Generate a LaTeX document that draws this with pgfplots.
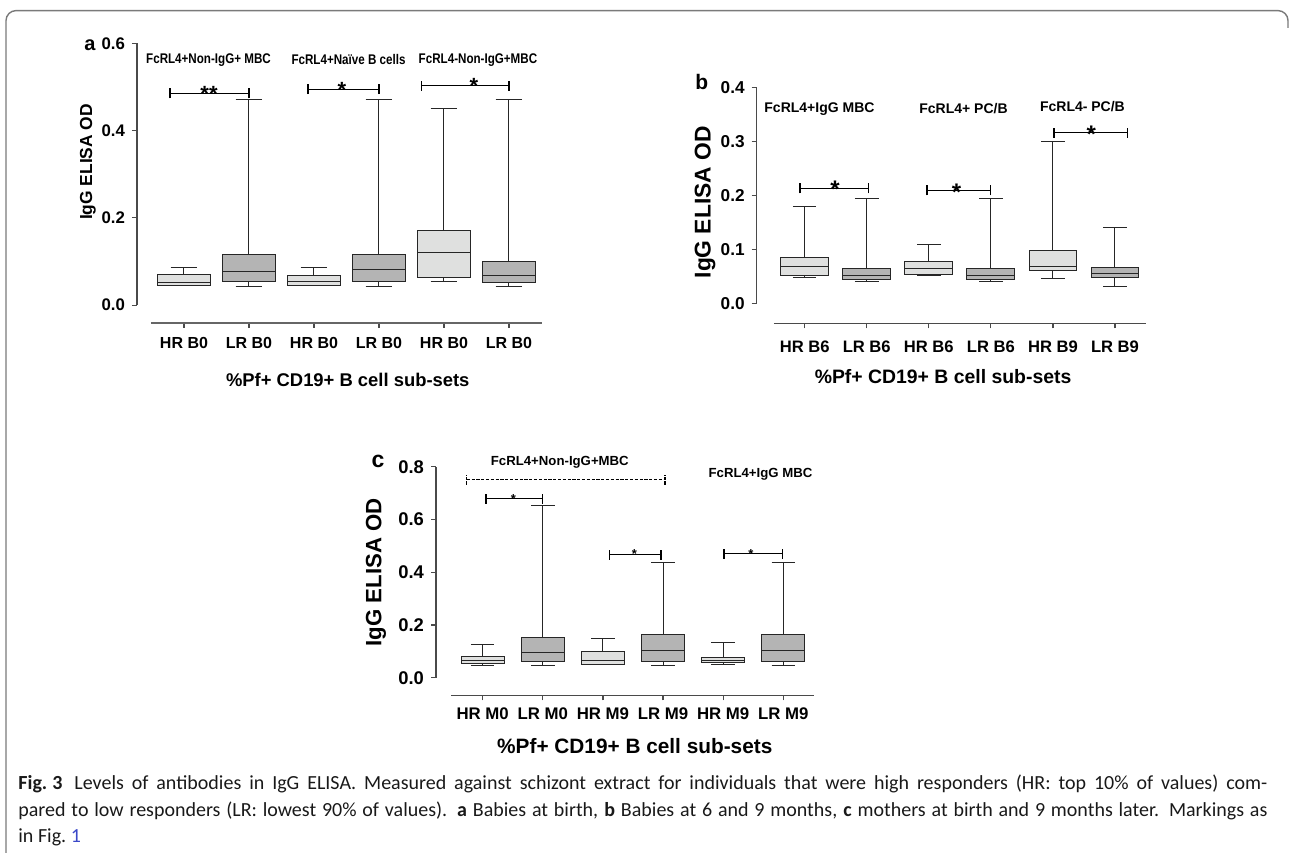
\documentclass[border=0pt]{standalone}
\usepackage{fontspec}
\setmainfont{Liberation Sans}
\newfontfamily\capfont{Carlito}
\usepackage{graphicx}
\usepackage{pgfplots}
\pgfplotsset{compat=1.18}
\usepgfplotslibrary{statistics}

\definecolor{boxlight}{HTML}{DFE0DF}
\definecolor{boxdark}{HTML}{B4B4B4}
\definecolor{axgray}{HTML}{4A4A4A}
\definecolor{framegray}{HTML}{7A7A7A}
\definecolor{linkblue}{HTML}{3B48C8}

\pgfplotsset{
  gp/.style={
    scale only axis, clip=false,
    axis line style={draw=none},
    tick pos=left, tick align=outside,
    major tick length=2.5pt,
    every tick/.style={axgray, line width=0.6pt},
    /pgf/number format/assume math mode=true,
    yticklabel style={/pgf/number format/fixed, /pgf/number format/fixed zerofill,
      /pgf/number format/precision=1},
    xtick={0,1,2,3,4,5},
  },
}
\tikzset{
  axln/.style={axgray, line width=0.7pt},
  sigline/.style={black, line width=0.6pt},
}

% box: position, fill, lower whisker, lower quartile, median, upper quartile, upper whisker
\newcommand{\bx}[7]{%
  \addplot[draw=black!85, line width=0.5pt, fill=#2,
    boxplot prepared={draw direction=y, draw position=#1, lower whisker=#3, lower quartile=#4,
      median=#5, upper quartile=#6, upper whisker=#7,
      box extend=\boxw, whisker extend=\whiskw}] coordinates {};}
% bracket: x1, x2, y
\newcommand{\sig}[3]{%
  \draw[sigline] (axis cs:#1,#3) -- (axis cs:#2,#3);
  \draw[sigline] ([yshift=-2.5pt]axis cs:#1,#3) -- ([yshift=2.5pt]axis cs:#1,#3);
  \draw[sigline] ([yshift=-2.5pt]axis cs:#2,#3) -- ([yshift=2.5pt]axis cs:#2,#3);}

\begin{document}
\begin{tikzpicture}
\useasboundingbox (0,0) rectangle (645pt,426pt);
\draw[framegray, line width=0.7pt, rounded corners=5pt]
  (3pt,-2pt) -- (3pt,420.7pt) -- (644pt,420.7pt) -- (644pt,412pt);

% ---------- panel a
\def\boxw{0.82}\def\whiskw{0.41}
\begin{axis}[gp, at={(68.5pt,264.5pt)}, anchor=south west,
  width=202.5pt, height=139.85pt,
  xmin=-0.723, xmax=5.508, ymin=-0.041, ymax=0.6,
  ytick={0,0.2,0.4,0.6},
  yticklabel style={font=\fontsize{8.4}{10}\selectfont\bfseries},
  xticklabels={HR B0,LR B0,HR B0,LR B0,HR B0,LR B0},
  xticklabel style={font=\fontsize{8}{10}\selectfont\bfseries, yshift=-1.3pt},
]
\bx{0}{boxlight}{0.045}{0.046}{0.052}{0.070}{0.086}
\bx{1}{boxdark}{0.043}{0.055}{0.078}{0.115}{0.472}
\bx{2}{boxlight}{0.045}{0.046}{0.054}{0.069}{0.087}
\bx{3}{boxdark}{0.043}{0.055}{0.081}{0.115}{0.472}
\bx{4}{boxlight}{0.055}{0.063}{0.120}{0.171}{0.450}
\bx{5}{boxdark}{0.042}{0.052}{0.068}{0.099}{0.472}
\draw[axln] (axis cs:-0.723,0) -- (axis cs:-0.723,0.6);
\draw[axln, black!60, line width=0.9pt] (axis cs:-0.508,-0.041) -- (axis cs:5.508,-0.041);
\sig{-0.215}{1}{0.485}
\sig{1.908}{3}{0.495}
\sig{3.657}{5}{0.503}
\begin{scope}[every node/.style={anchor=base, inner sep=0, font=\fontsize{11}{12}\selectfont\bfseries}]
\node at ([yshift=-4pt]axis cs:0.385,0.485) {**};
\node at ([yshift=-4pt]axis cs:2.43,0.495) {*};
\node at ([yshift=-4pt]axis cs:4.46,0.503) {*};
\end{scope}
\begin{scope}[every node/.style={font=\fontsize{7}{8}\selectfont\bfseries}]
\node at (axis cs:0.377,0.562) {\scalebox{0.83}[1]{FcRL4+Non-IgG+ MBC}};
\node at (axis cs:2.531,0.562) {\scalebox{0.83}[1]{FcRL4+Naïve B cells}};
\node at (axis cs:4.523,0.562) {\scalebox{0.83}[1]{FcRL4-Non-IgG+MBC}};
\end{scope}
\node[rotate=90, font=\fontsize{8.7}{10}\selectfont\bfseries]
  at ([xshift=-24.5pt]axis cs:-0.723,0.328) {IgG ELISA OD};
\node[font=\fontsize{9.2}{11}\selectfont\bfseries]
  at ([yshift=-28.5pt]axis cs:2.52,-0.041) {\%Pf+ CD19+ B cell sub-sets};
\end{axis}

% ---------- panel b
\def\boxw{0.77}\def\whiskw{0.38}
\begin{axis}[gp, at={(378.35pt,264.35pt)}, anchor=south west,
  width=194.65pt, height=118pt,
  xmin=-0.773, xmax=5.50, ymin=-0.037, ymax=0.4,
  ytick={0,0.1,0.2,0.3,0.4},
  yticklabel style={font=\fontsize{8.6}{10}\selectfont\bfseries},
  xticklabels={HR B6,LR B6,HR B6,LR B6,HR B9,LR B9},
  xticklabel style={font=\fontsize{8.3}{10}\selectfont\bfseries, yshift=-2.6pt},
]
\bx{0}{boxlight}{0.047}{0.052}{0.068}{0.084}{0.180}
\bx{1}{boxdark}{0.041}{0.045}{0.052}{0.065}{0.195}
\bx{2}{boxlight}{0.052}{0.054}{0.065}{0.077}{0.108}
\bx{3}{boxdark}{0.041}{0.045}{0.052}{0.065}{0.195}
\bx{4}{boxlight}{0.046}{0.060}{0.068}{0.097}{0.299}
\bx{5}{boxdark}{0.031}{0.048}{0.055}{0.067}{0.141}
\draw[axln] (axis cs:-0.773,0) -- (axis cs:-0.773,0.4);
\draw[axln] (axis cs:-0.495,-0.037) -- (axis cs:5.50,-0.037);
\sig{-0.076}{1.025}{0.213}
\sig{1.971}{2.997}{0.209}
\sig{4.017}{5.205}{0.316}
\begin{scope}[every node/.style={anchor=base, inner sep=0, font=\fontsize{12}{13}\selectfont\bfseries}]
\node at ([yshift=-4.8pt]axis cs:0.488,0.213) {*};
\node at ([yshift=-4.8pt]axis cs:2.449,0.209) {*};
\node at ([yshift=-4.8pt]axis cs:4.62,0.316) {*};
\end{scope}
\begin{scope}[every node/.style={font=\fontsize{7}{8}\selectfont\bfseries}]
\node at (axis cs:0.238,0.36) {FcRL4+IgG MBC};
\node at (axis cs:2.559,0.36) {FcRL4+ PC/B};
\node at (axis cs:4.476,0.364) {FcRL4- PC/B};
\end{scope}
\node[rotate=90, font=\fontsize{11.4}{13}\selectfont\bfseries]
  at ([xshift=-25.85pt]axis cs:-0.773,0.187) {IgG ELISA OD};
\node[font=\fontsize{9.7}{11}\selectfont\bfseries]
  at ([yshift=-26.7pt]axis cs:2.23,-0.037) {\%Pf+ CD19+ B cell sub-sets};
\end{axis}

% ---------- panel c
\def\boxw{0.72}\def\whiskw{0.39}
\begin{axis}[gp, at={(218pt,78.35pt)}, anchor=south west,
  width=189pt, height=114.3pt,
  xmin=-0.777, xmax=5.511, ymin=-0.0667, ymax=0.8,
  ytick={0,0.2,0.4,0.6,0.8},
  yticklabel style={font=\fontsize{9.2}{11}\selectfont\bfseries},
  xticklabels={HR M0,LR M0,HR M9,LR M9,HR M9,LR M9},
  xticklabel style={font=\fontsize{8.4}{10}\selectfont\bfseries},
]
\bx{0}{boxlight}{0.047}{0.054}{0.067}{0.080}{0.127}
\bx{1}{boxdark}{0.046}{0.063}{0.097}{0.154}{0.654}
\bx{2}{boxlight}{0.049}{0.051}{0.067}{0.100}{0.147}
\bx{3}{boxdark}{0.046}{0.061}{0.104}{0.165}{0.437}
\bx{4}{boxlight}{0.051}{0.057}{0.066}{0.078}{0.132}
\bx{5}{boxdark}{0.046}{0.063}{0.103}{0.163}{0.437}
\draw[axln] (axis cs:-0.777,0) -- (axis cs:-0.777,0.8);
\draw[axln] (axis cs:-0.527,-0.0667) -- (axis cs:5.511,-0.0667);
\begin{scope}[sigline/.append style={dash pattern=on 1.6pt off 0.8pt}]
\sig{-0.266}{3.032}{0.751}
\end{scope}
\sig{0.055}{0.998}{0.678}
\sig{2.106}{2.966}{0.467}
\sig{4.014}{4.99}{0.470}
\begin{scope}[every node/.style={anchor=base, inner sep=0, font=\fontsize{6.5}{7}\selectfont\bfseries}]
\node at ([yshift=-2.2pt]axis cs:0.509,0.678) {*};
\node at ([yshift=-2.2pt]axis cs:2.522,0.467) {*};
\node at ([yshift=-2.2pt]axis cs:4.463,0.470) {*};
\end{scope}
\begin{scope}[every node/.style={font=\fontsize{6.6}{8}\selectfont\bfseries}]
\node at (axis cs:1.283,0.815) {FcRL4+Non-IgG+MBC};
\node at (axis cs:4.621,0.772) {FcRL4+IgG MBC};
\end{scope}
\node[rotate=90, font=\fontsize{11.1}{13}\selectfont\bfseries]
  at ([xshift=-30pt]axis cs:-0.777,0.399) {IgG ELISA OD};
\node[font=\fontsize{10.4}{12}\selectfont\bfseries]
  at ([yshift=-25.35pt]axis cs:2.53,-0.0667) {\%Pf+ CD19+ B cell sub-sets};
\end{axis}

% panel letters
\node[font=\fontsize{10}{12}\selectfont\bfseries] at (45pt,403.5pt) {a};
\node[font=\fontsize{10.5}{12}\selectfont\bfseries] at (350.85pt,385.15pt) {b};
\node[font=\fontsize{11.5}{13}\selectfont\bfseries] at (189pt,195.4pt) {c};

% caption
\begin{scope}[every node/.style={anchor=base west, inner sep=0,
    font=\capfont\fontsize{10}{13}\selectfont, text=black!90}]
\node at (9pt,31.5pt) {\makebox[624.5pt][s]{\textbf{Fig.\kern0.25em3}\hspace{0.6em}Levels of antibodies in IgG ELISA. Measured against schizont extract for individuals that were high responders (HR: top 10\% of values) com-}};
\node at (9pt,18pt) {\makebox[624.5pt][s]{pared to low responders (LR: lowest 90\% of values). \textbf{a} Babies at birth, \textbf{b} Babies at 6 and 9 months, \textbf{c} mothers at birth and 9 months later. Markings as}};
\node at (9pt,5pt) {in Fig.~\textcolor{linkblue}{1}};
\end{scope}
\end{tikzpicture}
\end{document}
